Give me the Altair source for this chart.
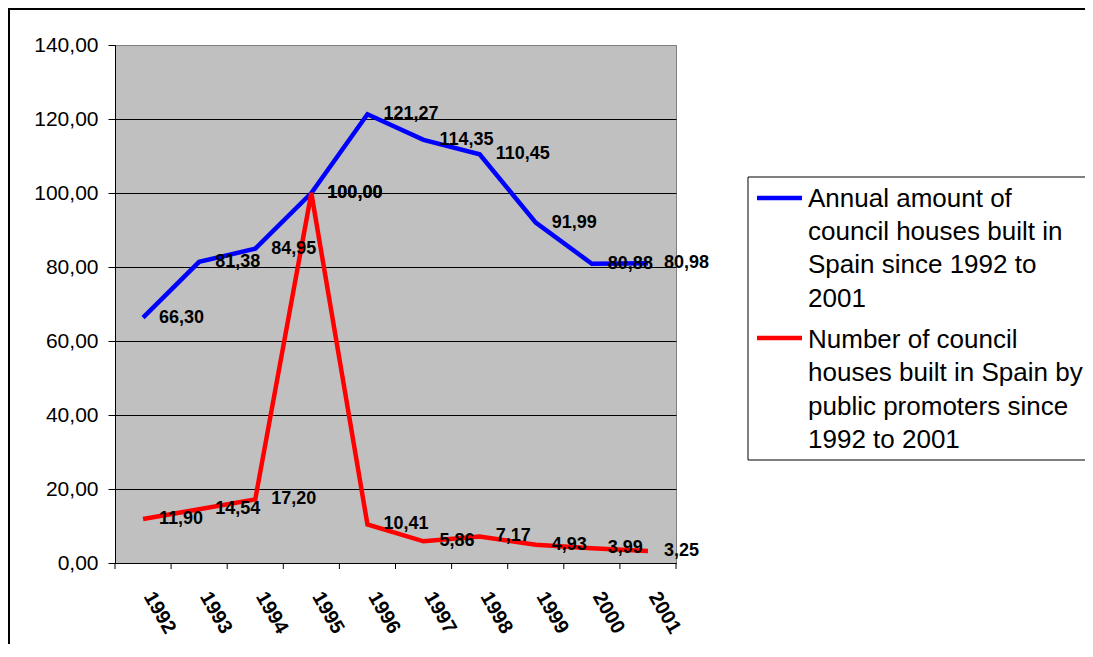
import altair as alt
import pandas as pd

years = [1992, 1993, 1994, 1995, 1996, 1997, 1998, 1999, 2000, 2001]
annual = [66.30, 81.38, 84.95, 100.00, 121.27, 114.35, 110.45, 91.99, 80.88, 80.98]
public = [11.90, 14.54, 17.20, 100.00, 10.41, 5.86, 7.17, 4.93, 3.99, 3.25]
series_names = [
    "Annual amount of council houses built in Spain since 1992 to 2001",
    "Number of council houses built in Spain by public promoters since 1992 to 2001",
]
legend_lines = [
    ["Annual amount of", "council houses built in", "Spain since 1992 to", "2001"],
    ["Number of council", "houses built in Spain by", "public promoters since", "1992 to 2001"],
]
colors = ["#0000FF", "#FF0000"]
y_ticks = [0, 20, 40, 60, 80, 100, 120, 140]

rows = []
for name, vals in zip(series_names, [annual, public]):
    for yr, v in zip(years, vals):
        rows.append({"year": yr, "value": v, "series": name,
                     "label": f"{v:.2f}".replace(".", ",")})
df = pd.DataFrame(rows)
edges = pd.DataFrame({"edge": [y - 0.5 for y in years] + [years[-1] + 0.5]})
one = pd.DataFrame({"k": [0]})

W, H = 561, 518
FONT = "Liberation Sans"
TOTAL_W, TOTAL_H = 1077, 636
LEFT, TOP = 107, 37
RIGHT_EDGE = TOTAL_W - LEFT  # right edge of the drawing, in plot coordinates

xscale = alt.Scale(domain=[years[0] - 0.5, years[-1] + 0.5], nice=False, zero=False)
yscale = alt.Scale(domain=[0, 140], nice=False)

x_axis = alt.Axis(values=years, format="d", title=None, ticks=False,
                  labelAngle=60, labelAlign="left", labelBaseline="middle",
                  labelFontSize=20, labelFontWeight="bold", labelFont=FONT,
                  labelColor="black", labelPadding=30, labelOffset=5,
                  domainColor="black", domainWidth=1, grid=False, labelFlush=False,
                  labelOverlap=False)
y_axis = alt.Axis(values=y_ticks, title=None, tickSize=7, tickColor="black",
                  labelPadding=10, labelFontSize=21, labelFont=FONT, labelColor="black",
                  labelExpr="replace(format(datum.value, '.2f'), '.', ',')",
                  domainColor="black", grid=True,
                  gridColor={"condition": {"test": "datum.value === 140", "value": "#808080"},
                             "value": "black"},
                  gridWidth=1)

base = alt.Chart(df)

lines = []
for name, col in zip(series_names, colors):
    lines.append(
        base.transform_filter(alt.datum.series == name)
        .mark_line(color=col, strokeWidth=4.5)
        .encode(x=alt.X("year:Q", scale=xscale, axis=x_axis),
                y=alt.Y("value:Q", scale=yscale, axis=y_axis))
    )

labels = base.mark_text(align="left", baseline="middle", dx=16, fontSize=18,
                        fontWeight="bold", font=FONT, color="black").encode(
    x=alt.X("year:Q", scale=xscale),
    y=alt.Y("value:Q", scale=yscale),
    text="label:N",
)

ticks = alt.Chart(edges).mark_rule(color="black", strokeWidth=1).encode(
    x=alt.X("edge:Q", scale=xscale),
    y=alt.value(H), y2=alt.value(H + 6),
)

deco = alt.Chart(one)
# outer chart frame (left and top edges; right and bottom lie outside the window)
frame_left = deco.mark_rule(color="black", strokeWidth=2).encode(
    x=alt.value(-106), y=alt.value(-36), y2=alt.value(TOTAL_H - TOP))
frame_top = deco.mark_rule(color="black", strokeWidth=2).encode(
    x=alt.value(-107), x2=alt.value(RIGHT_EDGE), y=alt.value(-36))

# legend box (runs to the right edge of the drawing)
legend_fill = deco.mark_rect(fill="white", strokeWidth=0).encode(
    x=alt.value(633), x2=alt.value(RIGHT_EDGE), y=alt.value(132), y2=alt.value(415))
legend_edges = [
    deco.mark_rule(color="black", strokeWidth=1).encode(
        x=alt.value(633), y=alt.value(132), y2=alt.value(415)),
    deco.mark_rule(color="black", strokeWidth=1).encode(
        x=alt.value(633), x2=alt.value(RIGHT_EDGE), y=alt.value(132)),
    deco.mark_rule(color="black", strokeWidth=1).encode(
        x=alt.value(633), x2=alt.value(RIGHT_EDGE), y=alt.value(415)),
]

legend_layers = [legend_fill] + legend_edges
sym_y = [153, 293]
txt_y = [161.7, 303]
for i in range(2):
    legend_layers.append(
        deco.mark_rule(color=colors[i], strokeWidth=4.5).encode(
            x=alt.value(642), x2=alt.value(687), y=alt.value(sym_y[i]))
    )
    legend_layers.append(
        deco.mark_text(text=legend_lines[i], align="left",
                       baseline="alphabetic", fontSize=26, font=FONT,
                       lineHeight=33.3, color="black").encode(
            x=alt.value(693), y=alt.value(txt_y[i]))
    )

chart = alt.layer(*lines, labels, ticks, frame_left, frame_top, *legend_layers).properties(
    width=W, height=H,
    autosize=alt.AutoSizeParams(type="none"),
    padding={"left": LEFT, "top": TOP, "right": TOTAL_W - LEFT - W, "bottom": TOTAL_H - TOP - H},
    background="white",
).configure_view(fill="#C0C0C0", stroke="#808080", strokeWidth=1)

chart.save("out.html", embed_options={"renderer": "svg", "actions": False})
